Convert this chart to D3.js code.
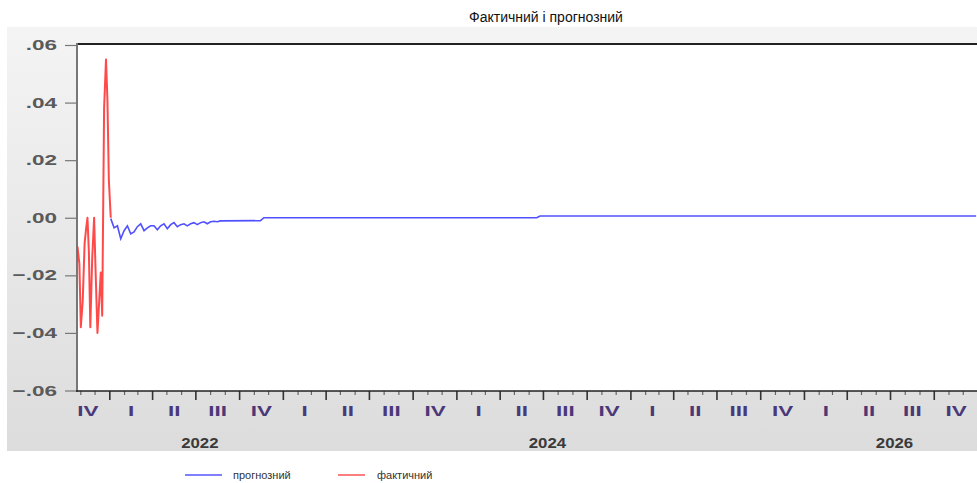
<!DOCTYPE html>
<html>
<head>
<meta charset="utf-8">
<script src="https://cdn.jsdelivr.net/npm/d3@7"></script>
<style>
    body { margin: 0; background: #fff; }
    #chart { width: 977px; height: 483px; }
    text { font-family: "Liberation Sans", Arial, sans-serif; }
</style>
</head>
<body>
<div id="chart"></div>
<script>
const actualDates = ["2021-10-25", "2021-10-29", "2021-11-01", "2021-11-05", "2021-11-09", "2021-11-12",
    "2021-11-15", "2021-11-18", "2021-11-21", "2021-11-25", "2021-11-29", "2021-12-02", "2021-12-06",
    "2021-12-10", "2021-12-13", "2021-12-16", "2021-12-20", "2021-12-24", "2021-12-27", "2021-12-30", "2022-01-03"];
const actualValues = [-0.010, -0.016, -0.038, -0.029, -0.009, -0.004, 0.000, -0.012, -0.038, -0.014, 0.000,
    -0.018, -0.040, -0.028, -0.019, -0.034, 0.038, 0.055, 0.041, 0.013, 0.000];

// forecast series (прогнозний): weekly from 2022-01-03 while it oscillates, then flat
const forecastStart = "2022-01-03";
const forecastWeekly = [-0.0003, -0.0035, -0.0028, -0.0073, -0.0045, -0.0028, -0.0056, -0.0049, -0.0031,
    -0.0021, -0.0045, -0.0035, -0.0028, -0.0028, -0.0042, -0.0028, -0.0021, -0.0038, -0.0024, -0.0017,
    -0.0031, -0.0024, -0.0021, -0.0028, -0.0021, -0.0017, -0.0024, -0.0017, -0.0014, -0.0021, -0.0014,
    -0.0012, -0.0014];
const forecastTailDates = ["2022-08-22", "2022-11-14", "2022-11-21", "2024-06-17", "2024-06-24", "2026-12-28"];
const forecastTailValues = [-0.0011, -0.0010, 0.0000, 0.0000, 0.0006, 0.0006];

const yTicks = [-0.06, -0.04, -0.02, 0.00, 0.02, 0.04, 0.06];
const quarterNames = ["I", "II", "III", "IV"];
const yearLabels = [2022, 2024, 2026];
const legendNames = ["прогнозний", "фактичний"];
const chartTitle = "Фактичний і прогнозний";

class ForecastChart {

    constructor(parentElement) {
        this.parentElement = parentElement;
        this.initVis();
    }

    initVis() {
        let vis = this;
        let parse = d3.timeParse("%Y-%m-%d");

        vis.width = 977;
        vis.height = 483;
        vis.plot = { left: 77, right: 978, top: 45, bottom: 391 };

        vis.actual = actualDates.map((d, i) => ({ date: parse(d), value: actualValues[i] }));
        let start = parse(forecastStart);
        vis.forecast = forecastWeekly.map((v, i) => ({ date: d3.timeDay.offset(start, 7 * i), value: v }))
            .concat(forecastTailDates.map((d, i) => ({ date: parse(d), value: forecastTailValues[i] })));

        vis.svg = d3.select("#" + vis.parentElement).append("svg")
            .attr("width", vis.width)
            .attr("height", vis.height);

        let defs = vis.svg.append("defs");
        let grad = defs.append("linearGradient")
            .attr("id", "panel-grad")
            .attr("x1", 0).attr("y1", 0).attr("x2", 0).attr("y2", 1);
        grad.append("stop").attr("offset", "0%").attr("stop-color", "#f4f4f4");
        grad.append("stop").attr("offset", "100%").attr("stop-color", "#dcdcdc");

        defs.append("clipPath").attr("id", "plot-clip")
            .append("rect")
            .attr("x", vis.plot.left)
            .attr("y", vis.plot.top)
            .attr("width", vis.plot.right - vis.plot.left)
            .attr("height", vis.plot.bottom - vis.plot.top);

        // grey panel behind the graph
        vis.svg.append("rect")
            .attr("x", 7).attr("y", 27)
            .attr("width", vis.width - 7).attr("height", 424)
            .attr("fill", "url(#panel-grad)");

        vis.svg.append("rect")
            .attr("x", vis.plot.left).attr("y", vis.plot.top)
            .attr("width", vis.plot.right - vis.plot.left)
            .attr("height", vis.plot.bottom - vis.plot.top)
            .attr("fill", "#fff");

        vis.svg.append("text")
            .attr("x", 546)
            .attr("y", 22)
            .attr("text-anchor", "middle")
            .style("font-size", "14px")
            .style("fill", "#111")
            .text(chartTitle);

        vis.x = d3.scaleTime()
            .domain([parse("2021-10-24"), parse("2027-01-01")])
            .range([vis.plot.left, vis.plot.right]);

        vis.y = d3.scaleLinear()
            .domain([-0.06, 0.06])
            .range([390.5, 45]);

        vis.drawAxes();
        vis.drawLegend();
        vis.wrangleData();
    }

    drawAxes() {
        let vis = this;

        // y axis: ticks and labels to the left
        let yAxis = d3.axisLeft(vis.y)
            .tickValues(yTicks)
            .tickSize(12)
            .tickFormat(() => "");
        let yg = vis.svg.append("g")
            .attr("transform", `translate(${vis.plot.left},0)`)
            .call(yAxis);
        yg.select(".domain").remove();
        yg.selectAll(".tick line").attr("stroke", "#777").attr("stroke-width", 1.2);

        vis.svg.append("g").selectAll(".ylab")
            .data(yTicks)
            .enter().append("text")
            .attr("class", "ylab")
            .attr("transform", d => `translate(57,${vis.y(d) + 5}) scale(1.5,1)`)
            .attr("text-anchor", "end")
            .style("font-size", "15px")
            .style("font-weight", "bold")
            .style("fill", "#5a5a5a")
            .text(d => d3.format(".2f")(d).replace("0.", "."));

        // x axis: month ticks, longer quarter ticks
        let months = d3.timeMonth.range(d3.timeMonth.ceil(vis.x.domain()[0]), vis.x.domain()[1]);
        vis.svg.append("g").selectAll(".xtick")
            .data(months)
            .enter().append("line")
            .attr("class", "xtick")
            .attr("x1", d => vis.x(d)).attr("x2", d => vis.x(d))
            .attr("y1", vis.plot.bottom)
            .attr("y2", d => vis.plot.bottom + (d.getMonth() % 3 === 0 ? 9 : 4))
            .attr("stroke", d => d.getMonth() % 3 === 0 ? "#333" : "#666")
            .attr("stroke-width", d => d.getMonth() % 3 === 0 ? 1.6 : 1.2);

        let quarters = d3.timeMonth.every(3).range(new Date(2021, 9, 1), vis.x.domain()[1]);
        vis.svg.append("g").selectAll(".qlab")
            .data(quarters)
            .enter().append("text")
            .attr("class", "qlab")
            .attr("transform", d => {
                let cx = (vis.x(d) + vis.x(d3.timeMonth.offset(d, 3))) / 2;
                return `translate(${cx},416) scale(1.5,1)`;
            })
            .attr("text-anchor", "middle")
            .style("font-size", "15px")
            .style("font-weight", "bold")
            .style("fill", "#4a3878")
            .text(d => quarterNames[Math.floor(d.getMonth() / 3)]);

        vis.svg.append("g").selectAll(".yearlab")
            .data(yearLabels)
            .enter().append("text")
            .attr("class", "yearlab")
            .attr("transform", d => `translate(${vis.x(new Date(d, 6, 1)) + 4},448) scale(1.2,1)`)
            .attr("text-anchor", "middle")
            .style("font-size", "14px")
            .style("font-weight", "bold")
            .style("fill", "#3a3a3a")
            .text(d => d);

        // frame
        vis.svg.append("line")
            .attr("x1", vis.plot.left).attr("x2", vis.width)
            .attr("y1", vis.plot.top - 1).attr("y2", vis.plot.top - 1)
            .attr("stroke", "#222").attr("stroke-width", 2);
        vis.svg.append("line")
            .attr("x1", vis.plot.left).attr("x2", vis.plot.left)
            .attr("y1", vis.plot.top - 2).attr("y2", vis.plot.bottom + 1)
            .attr("stroke", "#777").attr("stroke-width", 2);
        vis.svg.append("line")
            .attr("x1", vis.plot.left - 1).attr("x2", vis.width)
            .attr("y1", vis.plot.bottom).attr("y2", vis.plot.bottom)
            .attr("stroke", "#222").attr("stroke-width", 1.6);
    }

    drawLegend() {
        let vis = this;
        let colors = ["#7f7fff", "#ff7f7f"];
        let pos = [{ x1: 185, x2: 222, tx: 233 }, { x1: 338, x2: 365, tx: 377 }];

        let item = vis.svg.append("g").selectAll(".legend-item")
            .data(legendNames)
            .enter().append("g")
            .attr("class", "legend-item");

        item.append("line")
            .attr("x1", (d, i) => pos[i].x1).attr("x2", (d, i) => pos[i].x2)
            .attr("y1", 475).attr("y2", 475)
            .attr("stroke", (d, i) => colors[i])
            .attr("stroke-width", 2);

        item.append("text")
            .attr("x", (d, i) => pos[i].tx)
            .attr("y", 479)
            .style("font-size", "11px")
            .style("fill", "#333")
            .text(d => d);
    }

    wrangleData() {
        let vis = this;
        vis.updateVis();
    }

    updateVis() {
        let vis = this;

        let line = d3.line()
            .x(d => vis.x(d.date))
            .y(d => vis.y(d.value));

        let g = vis.svg.append("g").attr("clip-path", "url(#plot-clip)");

        g.append("path")
            .datum(vis.forecast)
            .attr("d", line)
            .attr("fill", "none")
            .attr("stroke", "#5050ff")
            .attr("stroke-width", 1.6);

        g.append("path")
            .datum(vis.actual)
            .attr("d", line)
            .attr("fill", "none")
            .attr("stroke", "#ff2a2a")
            .attr("stroke-opacity", 0.85)
            .attr("stroke-width", 2)
            .attr("stroke-linejoin", "round");
    }
}

new ForecastChart("chart");
</script>
</body>
</html>
